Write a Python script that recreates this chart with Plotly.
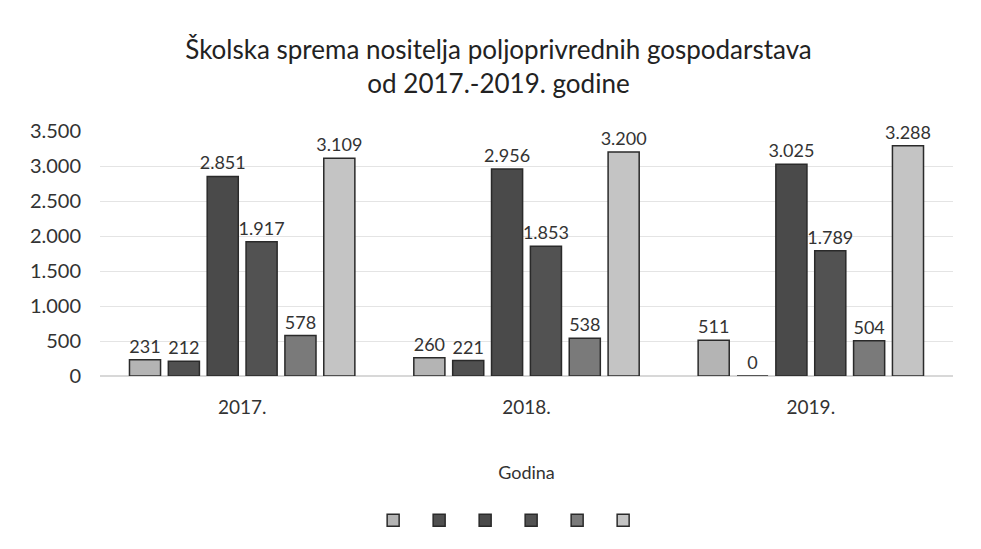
import plotly.graph_objects as go

years = ["2017.", "2018.", "2019."]
series_names = ["", "", "", "", "", ""]
s1 = [231, 260, 511]
s2 = [212, 221, 0]
s3 = [2851, 2956, 3025]
s4 = [1917, 1853, 1789]
s5 = [578, 538, 504]
s6 = [3109, 3200, 3288]
y_ticks = [0, 500, 1000, 1500, 2000, 2500, 3000, 3500]

series = [s1, s2, s3, s4, s5, s6]
colors = ["#b4b4b4", "#505050", "#4a4a4a", "#525252", "#7a7a7a", "#c4c4c4"]

fig = go.Figure()
for name, vals, col in zip(series_names, series, colors):
    fig.add_trace(go.Bar(
        x=years, y=vals, name=name,
        marker=dict(color=col, line=dict(color="#2a2a2a", width=1.5)),
        text=vals, texttemplate="%{y:,}", textposition="outside",
        constraintext="none",
        textfont=dict(size=18, color="#333333", family="Lato"),
        cliponaxis=False,
    ))

fig.update_layout(
    width=981, height=549,
    paper_bgcolor="white", plot_bgcolor="white",
    separators=",.",
    font=dict(family="Lato", color="#333333"),
    title=dict(text="Školska sprema nositelja poljoprivrednih gospodarstava<br>od 2017.-2019. godine",
               x=0.5, xanchor="center", y=0.907, yanchor="top",
               font=dict(size=26, color="#222222", family="Lato")),
    barmode="group", bargap=0.18, bargroupgap=0.2,
    margin=dict(l=92, r=36, t=123, b=181),
    showlegend=True,
    legend=dict(orientation="h", x=0.482, xanchor="center", y=-0.53, yanchor="top",
                font=dict(size=10), entrywidth=1, entrywidthmode="pixels",
                traceorder="normal"),
    xaxis=dict(title=dict(text="Godina", font=dict(size=18, color="#333333"), standoff=49),
               tickfont=dict(size=19, color="#333333"), showline=False, ticks="",
               ticklabelstandoff=18),
    yaxis=dict(range=[0, 3500], tickvals=y_ticks, tickformat=",",
               tickfont=dict(size=20, color="#333333"),
               showgrid=True, gridcolor="#e4e4e4", zeroline=True, zerolinecolor="#d8d8d8",
               ticks="", ticklabelstandoff=18),
)

fig.write_html("out.html")
